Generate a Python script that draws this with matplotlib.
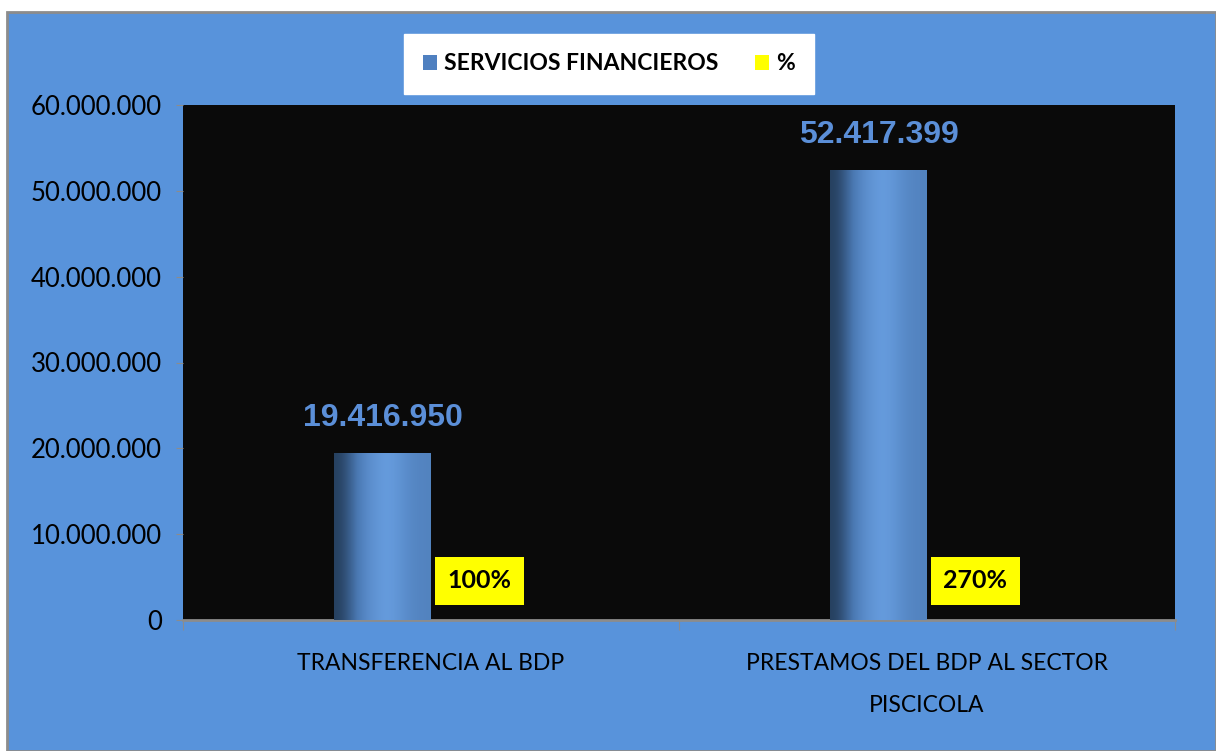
import numpy as np
import matplotlib
matplotlib.use("Agg")
import matplotlib.pyplot as plt
from matplotlib.patches import Rectangle, Patch
from matplotlib.ticker import FuncFormatter, MultipleLocator

categories = ["TRANSFERENCIA AL BDP", "PRESTAMOS DEL BDP AL SECTOR\nPISCICOLA"]
values = [19416950, 52417399]
value_labels = ["19.416.950", "52.417.399"]
percent_labels = ["100%", "270%"]

_BG = "#5893db"
_PLOT = "#0a0a0a"
_LABEL = "#5b8fd8"
_YELLOW = "#ffff00"
NARROW = ["Lato", "DejaVu Sans"]

fig = plt.figure(figsize=(12.16, 7.51), dpi=100, facecolor="white")

# blue frame with grey outline
frame = Rectangle((7 / 1216, 0), 1 - 7 / 1216, 1 - 12 / 751,
                  transform=fig.transFigure, facecolor=_BG,
                  edgecolor="#8c8c8c", linewidth=2, zorder=-5)
fig.add_artist(frame)

ax = fig.add_axes([183 / 1216, 1 - 620 / 751, 992 / 1216, 515 / 751])
ax.set_zorder(2)
ax.set_facecolor(_PLOT)

x = np.arange(len(categories))
width = 0.195
bars = ax.bar(x - width / 2, values, width, color="#4f80c0", zorder=2)

# cylinder-like shading over each bar
grad = np.array([0.0, 0.35, 0.7, 0.9, 1.0, 0.85, 0.7, 0.65])
cmap = matplotlib.colors.LinearSegmentedColormap.from_list(
    "cyl", ["#26405f", "#4a78b2", "#679ddf"])
for b in bars:
    ax.imshow(grad[np.newaxis, :], cmap=cmap, aspect="auto",
              extent=(b.get_x(), b.get_x() + b.get_width(), 0, b.get_height()),
              interpolation="bicubic", zorder=3)

for xi, v, lab in zip(x, values, value_labels):
    ax.text(xi - width / 2, v + 4.1e6, lab, ha="center", va="center",
            fontsize=23, fontweight="bold", color=_LABEL,
            family="Liberation Sans", zorder=4)

for xi, lab in zip(x, percent_labels):
    ax.text(xi + width / 2, 4.6e6, lab, ha="center", va="center",
            fontsize=18, fontweight="bold", color="black", family=NARROW,
            bbox=dict(boxstyle="square,pad=0.5", facecolor=_YELLOW,
                      edgecolor="none"), zorder=4)

ax.set_xlim(-0.5, 1.5)
ax.set_ylim(0, 60e6)
ax.yaxis.set_major_locator(MultipleLocator(10e6))
ax.yaxis.set_major_formatter(FuncFormatter(lambda v, _: f"{int(v):,}".replace(",", ".")))
ax.set_xticks([-0.5, 0.5, 1.5])
ax.set_xticklabels([])
ax.set_xticks(x, minor=True)
ax.set_xticklabels(categories, minor=True)
ax.tick_params(axis="x", which="minor", length=0, pad=24, labelsize=16.5,
               colors="black")
ax.tick_params(axis="x", which="major", length=7, color="#8c8c8c", direction="out")
ax.tick_params(axis="y", length=5, color="#8c8c8c", labelsize=18.5, pad=10)
for t in ax.get_yticklabels():
    t.set_family(NARROW)
for t in ax.get_xticklabels(minor=True):
    t.set_family(NARROW)
    t.set_linespacing(2.2)

for s in ["top", "right", "left"]:
    ax.spines[s].set_visible(False)
ax.spines["bottom"].set_color("#8c8c8c")
ax.spines["bottom"].set_linewidth(2)

handles = [Patch(facecolor="#4f80c0", label="SERVICIOS FINANCIEROS"),
           Patch(facecolor=_YELLOW, label="%")]
leg = fig.legend(handles=handles, loc="center", ncol=2,
                 bbox_to_anchor=(609 / 1216, 1 - 64 / 751),
                 frameon=True, fancybox=False, handlelength=0.6, handleheight=0.6,
                 handletextpad=0.3, columnspacing=1.6, borderpad=0.85,
                 borderaxespad=0,
                 prop={"family": NARROW, "weight": "bold", "size": 16.5})
leg.get_frame().set_facecolor("white")
leg.get_frame().set_edgecolor("white")
leg.get_frame().set_alpha(1)

fig.savefig("out.png", dpi=100, facecolor="white")
